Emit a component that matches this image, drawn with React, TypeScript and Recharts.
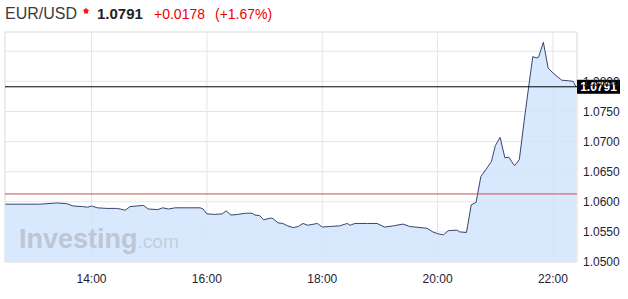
import React from "react";
import {
  AreaChart,
  Area,
  XAxis,
  YAxis,
  CartesianGrid,
  ReferenceLine,
  ReferenceArea,
} from "recharts";

// minutes since midnight
const times = [
  750, 766, 786, 804, 814, 821, 831, 836, 840, 846, 856, 866, 870, 875, 880, 894, 899, 909, 914, 920,
  927, 937, 953, 956, 960, 968, 976, 980, 985, 992, 1000, 1007, 1010, 1015, 1019, 1026, 1029, 1034,
  1039, 1044, 1050, 1055, 1060, 1065, 1075, 1080, 1088, 1098, 1106, 1109, 1114, 1127, 1137, 1145,
  1154, 1164, 1171, 1189, 1195, 1200, 1206, 1211, 1220, 1223, 1230, 1235, 1240, 1245, 1250, 1256,
  1260, 1265, 1270, 1274, 1280, 1285, 1290, 1295, 1299, 1303, 1305, 1310, 1315, 1320, 1329, 1336,
  1341, 1344,
];
const prices = [
  1.0596, 1.0596, 1.0596, 1.0598, 1.0597, 1.0593, 1.0592, 1.0591, 1.0593, 1.059, 1.0589, 1.0589,
  1.0588, 1.0586, 1.0592, 1.0594, 1.0588, 1.0587, 1.059, 1.0588, 1.059, 1.059, 1.059, 1.0588, 1.058,
  1.0579, 1.058, 1.0585, 1.0578, 1.0579, 1.0581, 1.0581, 1.0578, 1.0577, 1.057, 1.0573, 1.0572,
  1.0565, 1.0564, 1.056, 1.0557, 1.0559, 1.0564, 1.0561, 1.0564, 1.0558, 1.0559, 1.056, 1.0564,
  1.0561, 1.0564, 1.0564, 1.0564, 1.0558, 1.056, 1.0563, 1.0559, 1.0556, 1.055, 1.0547, 1.0545,
  1.0552, 1.0553, 1.055, 1.0549, 1.0595, 1.0599, 1.0642, 1.0653, 1.0667, 1.0693, 1.0707, 1.0673,
  1.0674, 1.066, 1.067, 1.0734, 1.0794, 1.0841, 1.0839, 1.084, 1.0865, 1.0822, 1.0814, 1.0802,
  1.0801, 1.08, 1.0791,
];

const xTicks = [840, 960, 1080, 1200, 1320];
const yTicks = [1.05, 1.055, 1.06, 1.065, 1.07, 1.075, 1.08, 1.085];
const xDomain = [750, 1345];
const yDomain = [1.05, 1.0882];

const symbol = "EUR/USD";
const lastPrice = 1.0791;
const change = "+0.0178";
const changePct = "(+1.67%)";
const prevClose = 1.0613;

const data = times.map((t, i) => ({ t, price: prices[i] }));

const FONT = "Arial, 'Liberation Sans', sans-serif";
const GRID = "#e3e5ec";

const fmtTime = (m: number) => `${Math.floor(m / 60)}:${String(m % 60).padStart(2, "0")}`;

const YTick = (props: any) => {
  const { x, y, payload } = props;
  if (payload.value > 1.0845) return <g />;
  return (
    <text x={x} y={y} dy="0.355em" textAnchor="start" fontSize={12} fill="#1d2233" fontFamily={FONT}>
      {payload.value.toFixed(4)}
    </text>
  );
};

const PriceLabel = (props: any) => {
  const vb = props.viewBox || {};
  const x = vb.x + vb.width;
  const y = vb.y;
  return (
    <g>
      <rect x={x} y={y - 7} width={43} height={14} fill="#000" />
      <text
        x={x + 21.5}
        y={y}
        dy="0.355em"
        textAnchor="middle"
        fontSize={12}
        fontWeight="bold"
        fill="#fff"
        fontFamily={FONT}
      >
        {lastPrice.toFixed(4)}
      </text>
    </g>
  );
};

export default function App() {
  return (
    <div style={{ position: "absolute", left: 0, top: 0, width: 628, height: 299, background: "#fff" }}>
      <AreaChart
        width={628}
        height={299}
        data={data}
        margin={{ top: 32, right: 0, bottom: 0, left: 5 }}
      >
        <CartesianGrid stroke={GRID} strokeWidth={1} />
        <XAxis
          dataKey="t"
          type="number"
          domain={xDomain}
          ticks={xTicks}
          tickFormatter={fmtTime}
          allowDataOverflow
          height={37}
          tickLine={false}
          axisLine={false}
          tickMargin={6}
          tick={{ fontSize: 12, fill: "#1d2233", fontFamily: FONT }}
        />
        <YAxis
          orientation="right"
          type="number"
          domain={yDomain}
          ticks={yTicks}
          allowDataOverflow
          width={51}
          tickLine={false}
          axisLine={false}
          tickMargin={0}
          tickSize={6}
          tick={<YTick />}
        />
        <Area
          type="linear"
          dataKey="price"
          stroke="#3a4472"
          strokeWidth={1}
          fill="#cfe3fc"
          fillOpacity={0.8}
          isAnimationActive={false}
          dot={false}
          activeDot={false}
        />
        <ReferenceArea
          x1={xDomain[0]}
          x2={xDomain[1]}
          y1={yDomain[0]}
          y2={yDomain[1]}
          fill="none"
          stroke={GRID}
          strokeWidth={1}
        />
        <ReferenceLine y={prevClose} stroke="#c8504a" strokeWidth={1} />
        <ReferenceLine y={lastPrice} stroke="#000" strokeWidth={1} label={<PriceLabel />} />
      </AreaChart>
      <svg
        width={628}
        height={299}
        style={{ position: "absolute", left: 0, top: 0, pointerEvents: "none" }}
        fontFamily={FONT}
      >
        <text x={19} y={247.5} fontSize={27} fontWeight="bold" fill="#bcc6d4">
          Investing
          <tspan fontSize={19} fontWeight="normal" fill="#c4cdda">.com</tspan>
        </text>
        <text x={5} y={19} fontSize={16} fill="#3a3a3a">
          {symbol}
        </text>
        <polygon points="86,8 89.5,11 88,11 88,13.5 84,13.5 84,11 82.5,11" fill="#ee1c1c" />
        <text x={97} y={18.5} fontSize={15} fontWeight="bold" fill="#222">
          {lastPrice.toFixed(4)}
        </text>
        <text x={154} y={18.5} fontSize={14} fill="#ee0000">
          {change}
        </text>
        <text x={215} y={18.5} fontSize={14} fill="#ee0000">
          {changePct}
        </text>
      </svg>
    </div>
  );
}
